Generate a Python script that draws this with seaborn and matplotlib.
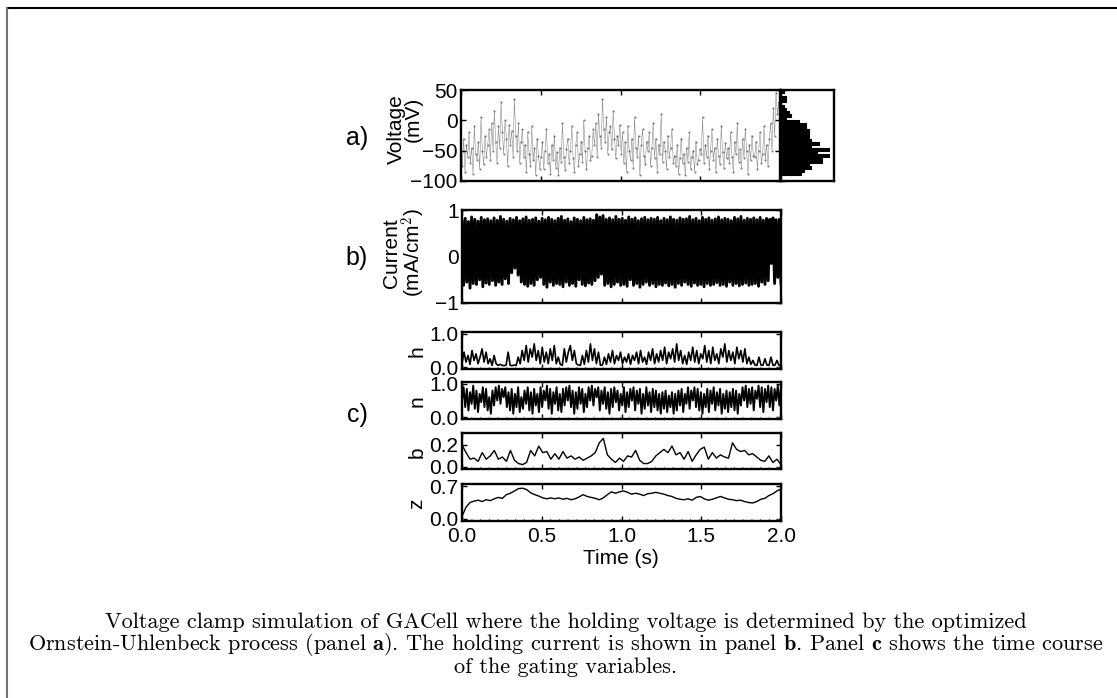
import numpy as np
import pandas as pd
import seaborn as sns
import matplotlib
matplotlib.use("Agg")
import matplotlib.pyplot as plt
from matplotlib.lines import Line2D

# ---------------- data ----------------
voltage = [
    -50,-75,-30,-85,-40,-60,-20,-70,-45,-88,-10,-55,-65,-35,-80,5,-50,-72,-25,-60,
    -40,-15,-65,-5,-50,15,-35,-70,-10,-45,30,-20,-55,0,-30,-75,-8,-40,-18,-60,
    35,-25,-50,-5,-70,-35,-15,-60,-40,-85,-20,-55,-75,-10,-65,-45,-90,-30,-58,-80,
    -60,-35,-80,-50,-15,-70,-55,-88,-40,-65,-25,-78,-52,-90,-45,-68,-5,-60,-82,-48,
    -30,-70,-50,-10,-62,-85,-40,-20,-75,-55,-35,-68,0,-50,-80,-45,-25,-65,-58,-15,
    -40,-5,-60,10,-25,-45,35,-15,-35,5,-55,-20,-10,-48,15,-30,-62,-25,-40,-8,
    -55,-20,-70,-35,-85,-10,-50,-65,-30,-78,5,-45,-60,-25,-90,-40,-15,-58,-72,-35,
    -50,-20,-75,-45,-5,-62,-30,-85,-40,-55,10,-68,-35,-50,-80,-25,-60,-45,-15,-70,
    -58,-75,-40,-88,-62,-30,-70,-55,-90,-45,-68,-20,-80,-60,-50,-85,-35,-72,-65,-48,
    -55,5,-70,-40,-60,-25,-80,-50,-15,-65,-45,-85,-30,-58,-72,-10,-52,-78,-38,-62,
    -45,-70,-20,-60,-85,-35,-55,-5,-68,-48,-78,-30,-62,-15,-50,-88,-40,-65,-25,-58,
    -60,-35,-80,-50,-20,-70,-55,-10,-65,-40,-75,-30,-5,-50,20,-25,45,10,30,-15,
]

current = [
    0.78,-0.62,0.82,-0.55,0.75,-0.68,0.85,-0.58,0.80,-0.60,0.76,-0.50,0.84,-0.65,0.79,-0.57,0.81,-0.60,0.77,-0.52,
    0.83,-0.62,0.78,-0.55,0.86,-0.60,0.80,-0.48,0.76,-0.58,0.82,-0.35,0.79,-0.25,0.84,-0.40,0.77,-0.55,0.81,-0.60,
    0.85,-0.64,0.78,-0.58,0.80,-0.62,0.83,-0.50,0.76,-0.45,0.82,-0.60,0.79,-0.66,0.84,-0.55,0.80,-0.62,0.77,-0.58,
    0.82,-0.60,0.86,-0.65,0.78,-0.55,0.81,-0.62,0.75,-0.58,0.83,-0.64,0.80,-0.50,0.77,-0.60,0.84,-0.63,0.79,-0.57,
    0.81,-0.60,0.78,-0.52,0.90,-0.45,0.85,-0.38,0.88,-0.62,0.80,-0.58,0.83,-0.65,0.79,-0.60,0.86,-0.55,0.80,-0.62,
    0.82,-0.60,0.78,-0.64,0.85,-0.50,0.80,-0.62,0.83,-0.58,0.77,-0.66,0.81,-0.60,0.84,-0.55,0.79,-0.62,0.82,-0.58,
    0.80,-0.65,0.84,-0.60,0.77,-0.62,0.82,-0.57,0.79,-0.63,0.85,-0.60,0.80,-0.66,0.78,-0.58,0.83,-0.62,0.80,-0.55,
    0.81,-0.60,0.86,-0.64,0.79,-0.57,0.82,-0.62,0.77,-0.60,0.84,-0.65,0.80,-0.58,0.83,-0.62,0.78,-0.60,0.81,-0.56,
    0.85,-0.62,0.79,-0.60,0.82,-0.64,0.80,-0.55,0.77,-0.62,0.84,-0.58,0.81,-0.63,0.86,-0.60,0.78,-0.57,0.82,-0.62,
    0.80,-0.60,0.83,-0.58,0.79,-0.64,0.84,-0.55,0.78,-0.60,0.82,-0.52,0.80,-0.15,0.83,-0.58,0.79,-0.45,0.80,-0.60,
]

gate_h = [
    0.10,0.45,0.15,0.35,0.08,0.50,0.20,0.40,0.10,0.30,0.55,0.15,0.45,0.10,0.25,0.05,0.35,0.10,0.05,0.08,
    0.05,0.04,0.06,0.45,0.05,0.04,0.06,0.05,0.30,0.10,0.50,0.20,0.65,0.15,0.55,0.30,0.70,0.20,0.50,0.10,
    0.60,0.15,0.45,0.10,0.55,0.20,0.65,0.10,0.30,0.08,0.05,0.55,0.15,0.45,0.65,0.20,0.50,0.10,0.06,0.05,
    0.35,0.08,0.50,0.15,0.70,0.20,0.55,0.10,0.45,0.05,0.06,0.30,0.08,0.40,0.15,0.50,0.10,0.35,0.20,0.45,
    0.10,0.30,0.15,0.40,0.08,0.35,0.20,0.45,0.10,0.50,0.15,0.30,0.08,0.45,0.20,0.55,0.10,0.40,0.15,0.50,
    0.20,0.60,0.10,0.45,0.25,0.55,0.15,0.70,0.20,0.50,0.10,0.35,0.08,0.45,0.20,0.60,0.15,0.50,0.10,0.40,
    0.25,0.65,0.15,0.50,0.10,0.60,0.20,0.40,0.10,0.55,0.30,0.70,0.15,0.50,0.20,0.45,0.10,0.60,0.25,0.50,
    0.15,0.55,0.10,0.30,0.08,0.20,0.06,0.05,0.30,0.06,0.05,0.25,0.06,0.05,0.30,0.05,0.06,0.20,0.05,0.06,
]

gate_n = [
    0.5,0.9,0.3,0.85,0.2,0.75,0.4,0.95,0.25,0.8, 0.15,0.7,0.45,0.9,0.3,0.85,0.2,0.6,0.1,0.8,
    0.35,0.9,0.5,0.95,0.4,0.85,0.6,0.9,0.3,0.75, 0.2,0.85,0.1,0.7,0.3,0.9,0.15,0.6,0.25,0.8,
    0.4,0.9,0.2,0.75,0.1,0.85,0.35,0.7,0.15,0.9, 0.3,0.8,0.5,0.95,0.25,0.85,0.1,0.75,0.4,0.9,
    0.2,0.7,0.15,0.85,0.35,0.9,0.5,0.95,0.3,0.8, 0.1,0.75,0.25,0.9,0.4,0.85,0.15,0.7,0.3,0.9,
    0.5,0.95,0.35,0.85,0.6,0.9,0.2,0.8,0.4,0.9, 0.25,0.75,0.1,0.85,0.3,0.9,0.45,0.8,0.2,0.7,
    0.35,0.9,0.15,0.75,0.3,0.85,0.5,0.9,0.2,0.8, 0.4,0.85,0.1,0.7,0.25,0.9,0.35,0.75,0.15,0.85,
    0.3,0.8,0.2,0.7,0.1,0.75,0.25,0.8,0.15,0.65, 0.3,0.75,0.1,0.7,0.2,0.8,0.35,0.85,0.15,0.7,
    0.4,0.9,0.25,0.8,0.5,0.9,0.3,0.85,0.2,0.75, 0.1,0.7,0.3,0.85,0.15,0.8,0.4,0.9,0.2,0.75,
    0.35,0.85,0.1,0.7,0.25,0.8,0.15,0.75,0.3,0.85, 0.2,0.8,0.1,0.7,0.35,0.9,0.5,0.95,0.3,0.85,
    0.4,0.9,0.2,0.8,0.55,0.95,0.3,0.9,0.15,0.85, 0.45,0.95,0.3,0.9,0.2,0.85,0.5,0.95,0.35,0.9,
]

gate_b = [
    0.20,0.13,0.07,0.08,0.05,0.13,0.07,0.10,0.15,0.07,0.09,0.05,0.15,0.06,0.03,0.02,0.04,0.15,0.10,0.19,
    0.13,0.14,0.07,0.12,0.07,0.14,0.08,0.10,0.07,0.09,0.06,0.08,0.10,0.13,0.22,0.26,0.11,0.07,0.04,0.08,
    0.05,0.10,0.09,0.15,0.06,0.03,0.03,0.05,0.10,0.13,0.16,0.13,0.19,0.11,0.13,0.07,0.14,0.05,0.11,0.16,
    0.18,0.07,0.13,0.08,0.11,0.09,0.08,0.22,0.16,0.14,0.15,0.11,0.12,0.09,0.06,0.05,0.10,0.04,0.07,0.02,
]

gate_z = [
    0.05,0.25,0.35,0.38,0.40,0.37,0.41,0.39,0.43,0.46,0.44,0.52,0.55,0.60,0.65,0.66,0.63,0.56,0.52,0.49,
    0.45,0.43,0.45,0.43,0.45,0.42,0.44,0.41,0.43,0.47,0.52,0.48,0.46,0.44,0.41,0.45,0.52,0.58,0.55,0.58,
    0.60,0.57,0.53,0.55,0.53,0.50,0.54,0.55,0.57,0.55,0.53,0.50,0.48,0.44,0.42,0.41,0.43,0.40,0.46,0.48,
    0.43,0.40,0.42,0.45,0.48,0.45,0.42,0.41,0.39,0.40,0.37,0.35,0.34,0.37,0.42,0.44,0.50,0.54,0.60,0.64,
]

time_ticks = [0.0, 0.5, 1.0, 1.5, 2.0]
time_tick_labels = ["0.0", "0.5", "1.0", "1.5", "2.0"]
T_END = 2.0

caption_lines = [
    "Voltage clamp simulation of GACell where the holding voltage is determined by the optimized",
    r"Ornstein-Uhlenbeck process (panel $\mathbf{a}$). The holding current is shown in panel $\mathbf{b}$. Panel $\mathbf{c}$ shows the time course",
    "of the gating variables.",
]

# ---------------- style ----------------
sns.set_theme(style="white")
plt.rcParams["font.family"] = ["Liberation Sans", "DejaVu Sans"]
plt.rcParams["mathtext.fontset"] = "cm"
for k in ["text.color", "axes.labelcolor", "xtick.color", "ytick.color", "axes.edgecolor"]:
    plt.rcParams[k] = "black"

TICK_FS = 15
LABEL_FS = 15

W, H = 1117, 698
fig = plt.figure(figsize=(W / 100, H / 100), dpi=100)
fig.patch.set_facecolor("white")


def box(l, t, r, b):
    return [l / W, 1 - b / H, (r - l) / W, (b - t) / H]


def style(ax, xlabels=False):
    for s in ax.spines.values():
        s.set_linewidth(1.7)
        s.set_color("black")
    ax.tick_params(direction="in", length=3.5, width=1.0, top=True, right=True,
                   bottom=True, left=True, labelsize=TICK_FS, pad=2.5, colors="black")
    ax.set_xlim(0, T_END)
    ax.set_xticks(time_ticks)
    if xlabels:
        ax.set_xticklabels(time_tick_labels)
    else:
        ax.set_xticklabels([])
    ax.set_xlabel("")
    ax.set_ylabel("")
    ax.grid(False)


def tline(vals):
    return np.linspace(0, T_END, len(vals))


# panel a: voltage
ax_a = fig.add_axes(box(461, 90, 780, 181))
df_v = pd.DataFrame({"t": tline(voltage), "v": voltage})
sns.lineplot(data=df_v, x="t", y="v", ax=ax_a, color="black", lw=0.35, alpha=0.5,
             estimator=None, marker="o", markersize=1.5, markeredgewidth=0, legend=False)
style(ax_a)
ax_a.set_ylim(-100, 50)
ax_a.set_yticks([-100, -50, 0, 50])

# histogram
ax_hist = fig.add_axes(box(781, 90, 834, 181))
sns.histplot(y=voltage, bins=np.arange(-100, 55, 5), ax=ax_hist, color="black",
             element="step", fill=True, alpha=1.0, linewidth=0.8)
for s in ax_hist.spines.values():
    s.set_linewidth(1.7)
    s.set_color("black")
ax_hist.set_ylim(-100, 50)
ax_hist.set_yticks([-100, -50, 0, 50])
ax_hist.set_yticklabels([])
ax_hist.set_xticks([])
ax_hist.tick_params(direction="in", length=3.5, width=1.0, left=True, right=False)
ax_hist.set_xlim(0, ax_hist.dataLim.x1 * 1.1)
ax_hist.set_xlabel("")
ax_hist.set_ylabel("")
ax_hist.grid(False)

# panel b: current
ax_b = fig.add_axes(box(462, 210, 781, 303))
df_c = pd.DataFrame({"t": tline(current), "i": current})
sns.lineplot(data=df_c, x="t", y="i", ax=ax_b, color="black", lw=2.1,
             estimator=None, legend=False)
style(ax_b)
ax_b.set_ylim(-1, 1)
ax_b.set_yticks([-1, 0, 1])

# panel c: gating variables
gates = [
    ("h", gate_h, (332, 369), (-0.06, 1.06), [0.0, 1.0], ["0.0", "1.0"], 1.2),
    ("n", gate_n, (382, 419), (-0.06, 1.06), [0.0, 1.0], ["0.0", "1.0"], 1.4),
    ("b", gate_b, (433, 469), (-0.02, 0.31), [0.0, 0.2], ["0.0", "0.2"], 1.0),
    ("z", gate_z, (484, 521), (-0.05, 0.75), [0.0, 0.7], ["0.0", "0.7"], 1.0),
]
for i, (name, vals, (top, bot), ylim, yt, ytl, lw) in enumerate(gates):
    ax = fig.add_axes(box(462, top, 781, bot))
    df = pd.DataFrame({"t": tline(vals), "y": vals})
    ax.axhline(0, color="0.55", lw=0.9, ls=(0, (1, 6)))
    sns.lineplot(data=df, x="t", y="y", ax=ax, color="black", lw=lw,
                 estimator=None, legend=False)
    style(ax, xlabels=(i == len(gates) - 1))
    ax.set_ylim(*ylim)
    ax.set_yticks(yt)
    ax.set_yticklabels(ytl)
    if i == len(gates) - 1:
        ax.tick_params(axis="x", pad=4.5)
    fig.text(417 / W, 1 - ((top + bot) / 2 + 1) / H, name, rotation=90, ha="center",
             va="center", fontsize=LABEL_FS)

# labels
fig.text(621 / W, 1 - 558 / H, "Time (s)", ha="center", va="center", fontsize=LABEL_FS)
fig.text(357 / W, 1 - 138 / H, "a)", ha="center", va="center", fontsize=18)
fig.text(357 / W, 1 - 258 / H, "b)", ha="center", va="center", fontsize=18)
fig.text(357 / W, 1 - 415 / H, "c)", ha="center", va="center", fontsize=18)
fig.text(396 / W, 1 - 129 / H, "Voltage", rotation=90, ha="center", va="center",
         fontsize=LABEL_FS)
fig.text(413 / W, 1 - 119 / H, "(mV)", rotation=90, ha="center", va="center",
         fontsize=LABEL_FS)
fig.text(392 / W, 1 - 253 / H, "Current", rotation=90, ha="center", va="center",
         fontsize=LABEL_FS)
fig.text(414 / W, 1 - 252 / H, "(mA/cm$^\\mathsf{2}$)", rotation=90, ha="center",
         va="center", fontsize=LABEL_FS)

# caption (one centred block)
fig.text(566 / W, 1 - 645 / H, "\n".join(caption_lines), ha="center", va="center",
         fontsize=16, family="cmr10", linespacing=0.97, multialignment="center")

# page frame
fig.add_artist(Line2D([7 / W, 1.0], [1 - 8 / H, 1 - 8 / H], transform=fig.transFigure,
                      color="black", lw=1.5))
fig.add_artist(Line2D([7 / W, 7 / W], [0, 1 - 8 / H], transform=fig.transFigure,
                      color="0.45", lw=1.5))

fig.savefig("out.png", dpi=100, facecolor="white")
